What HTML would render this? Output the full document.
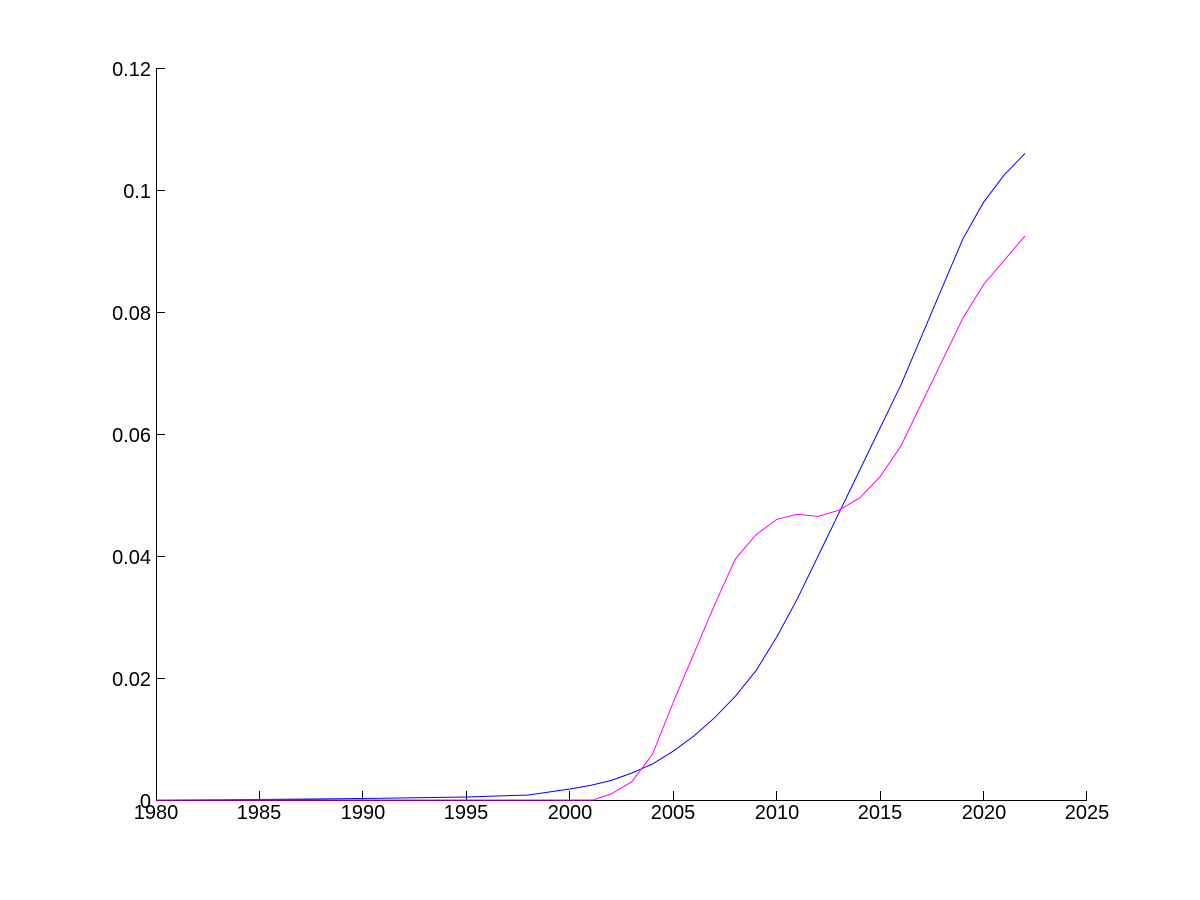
<!DOCTYPE html>
<html><head><style>
html,body{margin:0;padding:0;background:#fff;width:1200px;height:900px;overflow:hidden}
text{font-family:"Liberation Sans",Arial,sans-serif;font-size:20px;fill:#000}
</style></head><body>
<svg width="1200" height="900" viewBox="0 0 1200 900" xmlns="http://www.w3.org/2000/svg">
<g stroke="#000" stroke-width="1" fill="none" shape-rendering="crispEdges">
<line x1="156.5" y1="68" x2="156.5" y2="800"/>
<line x1="156" y1="800.5" x2="1087" y2="800.5"/>
<line x1="156" y1="68.5" x2="165" y2="68.5"/>
<line x1="156" y1="190.5" x2="165" y2="190.5"/>
<line x1="156" y1="312.5" x2="165" y2="312.5"/>
<line x1="156" y1="434.5" x2="165" y2="434.5"/>
<line x1="156" y1="556.5" x2="165" y2="556.5"/>
<line x1="156" y1="678.5" x2="165" y2="678.5"/>
<line x1="259.5" y1="800" x2="259.5" y2="791"/>
<line x1="362.5" y1="800" x2="362.5" y2="791"/>
<line x1="466.5" y1="800" x2="466.5" y2="791"/>
<line x1="569.5" y1="800" x2="569.5" y2="791"/>
<line x1="673.5" y1="800" x2="673.5" y2="791"/>
<line x1="776.5" y1="800" x2="776.5" y2="791"/>
<line x1="880.5" y1="800" x2="880.5" y2="791"/>
<line x1="983.5" y1="800" x2="983.5" y2="791"/>
<line x1="1086.5" y1="800" x2="1086.5" y2="791"/>
</g>
<g text-anchor="end">
<text x="151" y="76">0.12</text>
<text x="151" y="198">0.1</text>
<text x="151" y="320">0.08</text>
<text x="151" y="442">0.06</text>
<text x="151" y="564">0.04</text>
<text x="151" y="686">0.02</text>
<text x="151" y="808">0</text>
</g>
<g text-anchor="middle">
<text x="156" y="819">1980</text>
<text x="259" y="819">1985</text>
<text x="363" y="819">1990</text>
<text x="466" y="819">1995</text>
<text x="570" y="819">2000</text>
<text x="673" y="819">2005</text>
<text x="777" y="819">2010</text>
<text x="880" y="819">2015</text>
<text x="984" y="819">2020</text>
<text x="1087" y="819">2025</text>
</g>
<polyline fill="none" stroke="#0000ff" stroke-width="1" points="156,800 259,799.5 362.9,798.5 466.3,797 528.4,795 569.8,789 590.5,785.4 611.2,780.5 631.8,773 652.5,764 673.2,751.2 693.9,736 714.6,717.7 735.3,696.3 756,670.7 776.7,637 797.4,598.7 818.1,556 838.8,513.3 859.5,470.6 880.1,427.9 900.8,385.2 921.5,336.4 942.2,287.6 962.9,238.8 983.6,202.2 1004.3,174.8 1025,153.4"/>
<polyline fill="none" stroke="#ff00ff" stroke-width="1" points="156,800 593,800 611.2,793.9 631.8,781.7 652.5,754.3 673.2,702.4 693.9,653.6 714.6,604.8 735.3,559 756,534.7 776.7,519.4 797.4,514.3 818.1,516.4 838.8,510.3 859.5,498.1 880.1,476.7 900.8,446.2 921.5,403.5 942.2,360.8 962.9,318.1 983.6,284.6 1004.3,260.2 1025,236"/>
</svg>
</body></html>
